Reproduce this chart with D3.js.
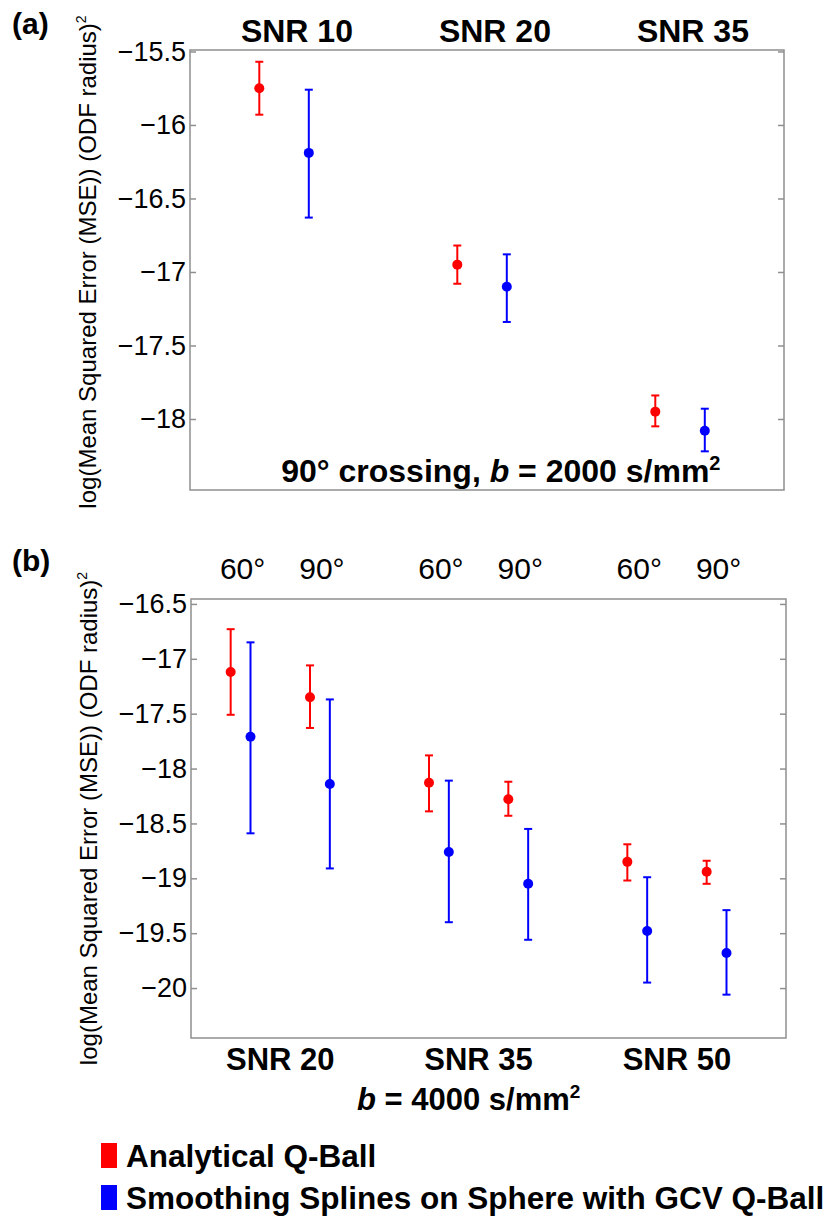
<!DOCTYPE html>
<html>
<head>
<meta charset="utf-8">
<script src="https://cdn.jsdelivr.net/npm/d3@7"></script>
<style>
  body { margin: 0; background: #fff; }
  text { font-family: "Liberation Sans", Arial, Helvetica, sans-serif; }
</style>
</head>
<body>
<svg id="chart"></svg>
<script>
// panel (a): 90 deg crossing, b = 2000
const snrA = ["SNR 10", "SNR 20", "SNR 35"];
const analyticalA = [-15.75, -16.95, -17.95];
const analyticalAHi = [-15.57, -16.82, -17.84];
const analyticalALo = [-15.93, -17.08, -18.05];
const splinesA = [-16.19, -17.10, -18.08];
const splinesAHi = [-15.76, -16.88, -17.93];
const splinesALo = [-16.63, -17.34, -18.22];
const ticksA = [-15.5, -16, -16.5, -17, -17.5, -18];

// panel (b): b = 4000, two crossing angles per SNR
const snrB = ["SNR 20", "SNR 35", "SNR 50"];
const anglesB = ["60°", "90°"];
const analyticalB = [-17.12, -17.35, -18.13, -18.28, -18.85, -18.94];
const analyticalBHi = [-16.73, -17.06, -17.88, -18.12, -18.69, -18.84];
const analyticalBLo = [-17.51, -17.63, -18.39, -18.43, -19.02, -19.05];
const splinesB = [-17.71, -18.14, -18.76, -19.05, -19.48, -19.68];
const splinesBHi = [-16.85, -17.37, -18.11, -18.55, -18.99, -19.29];
const splinesBLo = [-18.59, -18.91, -19.40, -19.56, -19.95, -20.06];
const ticksB = [-16.5, -17, -17.5, -18, -18.5, -19, -19.5, -20];

const legendLabels = ["Analytical Q-Ball", "Smoothing Splines on Sphere with GCV Q-Ball"];
const colors = ["#ff0000", "#0000ff"];

const W = 839, H = 1217;
const svg = d3.select("#chart").attr("width", W).attr("height", H);

const yLabel = "log(Mean Squared Error (MSE)) (ODF radius)";

function panel(opts) {
  const g = svg.append("g").attr("transform", `translate(${opts.left},${opts.top})`);
  const w = opts.width, h = opts.height;
  const x = d3.scaleLinear().domain([0.5, 3.5]).range([0, w]);
  const y = d3.scaleLinear().domain(opts.domain).range([h, 0]);

  g.append("rect").attr("width", w).attr("height", h)
    .attr("fill", "none").attr("stroke", "#8f8f8f").attr("stroke-width", 1.5);

  const left = g.append("g")
    .call(d3.axisLeft(y).tickValues(opts.ticks).tickSize(-6).tickPadding(4)
      .tickFormat(d3.format("~g")));
  const right = g.append("g").attr("transform", `translate(${w},0)`)
    .call(d3.axisRight(y).tickValues(opts.ticks).tickSize(-6).tickFormat(""));
  [left, right].forEach(a => {
    a.select(".domain").remove();
    a.selectAll("line").attr("stroke", "#8f8f8f").attr("stroke-width", 1.5);
  });
  left.selectAll("text").attr("font-size", 27).attr("fill", "#000")
    .attr("font-family", "Liberation Sans, Arial, sans-serif");

  // y label
  const lab = svg.append("text")
    .attr("transform", `translate(${opts.left - 94},${opts.top + h / 2 + opts.labelShift}) rotate(-90)`)
    .attr("text-anchor", "middle").attr("font-size", 24);
  lab.append("tspan").text(yLabel);
  lab.append("tspan").attr("font-size", 14).attr("dy", -10).text("2");

  // error bars
  opts.series.forEach((s, k) => {
    const pts = s.mean.map((m, i) => ({ x: opts.xpos(i, k), m, hi: s.hi[i], lo: s.lo[i] }));
    const eg = g.append("g").selectAll("g").data(pts).join("g")
      .attr("stroke", colors[k]).attr("fill", colors[k]);
    eg.append("line").attr("x1", d => x(d.x)).attr("x2", d => x(d.x))
      .attr("y1", d => y(d.hi)).attr("y2", d => y(d.lo)).attr("stroke-width", 2);
    eg.append("line").attr("x1", d => x(d.x) - 4).attr("x2", d => x(d.x) + 4)
      .attr("y1", d => y(d.hi)).attr("y2", d => y(d.hi)).attr("stroke-width", 2);
    eg.append("line").attr("x1", d => x(d.x) - 4).attr("x2", d => x(d.x) + 4)
      .attr("y1", d => y(d.lo)).attr("y2", d => y(d.lo)).attr("stroke-width", 2);
    eg.append("circle").attr("cx", d => x(d.x)).attr("cy", d => y(d.m)).attr("r", 5)
      .attr("stroke", "none");
  });

  return { g, x, y, w, h };
}

// ---- panel (a)
const pa = panel({
  left: 190, top: 50, width: 594, height: 440,
  domain: [-18.483, -15.49], ticks: ticksA, labelShift: -8,
  series: [
    { mean: analyticalA, hi: analyticalAHi, lo: analyticalALo },
    { mean: splinesA, hi: splinesAHi, lo: splinesALo }
  ],
  xpos: (i, k) => i + 1 + (k === 0 ? -0.15 : 0.1)
});
pa.g.selectAll(".snr").data(snrA).join("text")
  .attr("x", (d, i) => pa.x(i + 1.04)).attr("y", -8)
  .attr("text-anchor", "middle").attr("font-size", 32).attr("font-weight", "bold")
  .text(d => d);
const noteA = pa.g.append("text").attr("x", pa.x(2.07)).attr("y", pa.h - 8)
  .attr("text-anchor", "middle").attr("font-size", 32).attr("font-weight", "bold");
noteA.append("tspan").text("90° crossing, ");
noteA.append("tspan").attr("font-style", "italic").text("b");
noteA.append("tspan").text(" = 2000 s/mm");
noteA.append("tspan").attr("font-size", 20).attr("dy", -12).text("2");

svg.append("text").attr("x", 12).attr("y", 34).attr("font-size", 30)
  .attr("font-weight", "bold").text("(a)");

// ---- panel (b)
const pb = panel({
  left: 191, top: 599, width: 595, height: 439,
  domain: [-20.455, -16.455], ticks: ticksB, labelShift: 0,
  series: [
    { mean: analyticalB, hi: analyticalBHi, lo: analyticalBLo },
    { mean: splinesB, hi: splinesBHi, lo: splinesBLo }
  ],
  xpos: (i, k) => Math.floor(i / 2) + 1 + (i % 2 === 0 ? -0.3 : 0.1) + (k === 0 ? 0 : 0.1)
});
const angleCells = snrB.flatMap((s, i) => anglesB.map((a, j) => ({ a, pos: i + 1 + (j === 0 ? -0.24 : 0.16) })));
pb.g.selectAll(".ang").data(angleCells).join("text")
  .attr("x", d => pb.x(d.pos)).attr("y", -20)
  .attr("text-anchor", "middle").attr("font-size", 30).text(d => d.a);
pb.g.selectAll(".snr").data(snrB).join("text")
  .attr("x", (d, i) => pb.x(i + 0.95)).attr("y", pb.h + 32)
  .attr("text-anchor", "middle").attr("font-size", 31).attr("font-weight", "bold")
  .text(d => d);
const noteB = pb.g.append("text").attr("x", pb.x(1.9)).attr("y", pb.h + 72)
  .attr("text-anchor", "middle").attr("font-size", 31).attr("font-weight", "bold");
noteB.append("tspan").attr("font-style", "italic").text("b");
noteB.append("tspan").text(" = 4000 s/mm");
noteB.append("tspan").attr("font-size", 19).attr("dy", -12).text("2");

svg.append("text").attr("x", 12).attr("y", 571).attr("font-size", 30)
  .attr("font-weight", "bold").text("(b)");

// ---- legend
const leg = svg.append("g").attr("transform", "translate(101,1143)");
const li = leg.selectAll("g").data(legendLabels).join("g")
  .attr("transform", (d, i) => `translate(0,${i * 42})`);
li.append("rect").attr("width", 16).attr("height", 25).attr("fill", (d, i) => colors[i]);
li.append("text").attr("x", 25).attr("y", 24).attr("font-size", 31.5)
  .attr("font-weight", "bold").text(d => d);
</script>
</body>
</html>
